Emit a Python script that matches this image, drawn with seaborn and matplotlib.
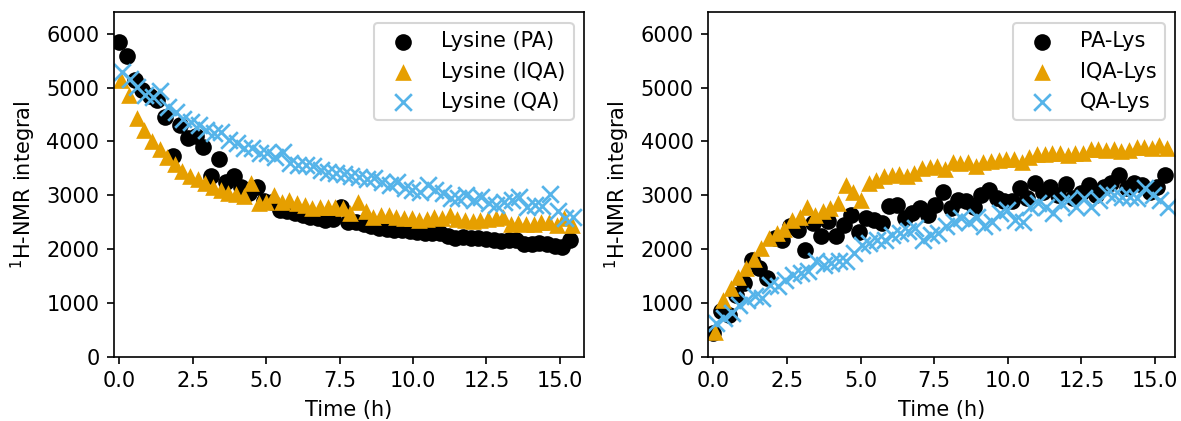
import matplotlib
matplotlib.use("Agg")
import matplotlib.pyplot as plt
import seaborn as sns

# sampling times (h) for each reaction series
time_pa = [0.00, 0.26, 0.52, 0.78, 1.04, 1.30, 1.56, 1.82, 2.08, 2.34,
           2.60, 2.86, 3.12, 3.38, 3.64, 3.90, 4.16, 4.42, 4.68, 4.94,
           5.20, 5.46, 5.72, 5.98, 6.24, 6.50, 6.76, 7.02, 7.28, 7.54,
           7.80, 8.06, 8.32, 8.58, 8.84, 9.10, 9.36, 9.62, 9.88, 10.14,
           10.40, 10.66, 10.92, 11.18, 11.44, 11.70, 11.96, 12.22, 12.48, 12.74,
           13.00, 13.26, 13.52, 13.78, 14.04, 14.30, 14.56, 14.82, 15.08, 15.34]
time_iqa = [0.07, 0.33, 0.59, 0.85, 1.11, 1.37, 1.63, 1.89, 2.15, 2.41,
            2.67, 2.93, 3.19, 3.45, 3.71, 3.97, 4.23, 4.49, 4.75, 5.01,
            5.27, 5.53, 5.79, 6.05, 6.31, 6.57, 6.83, 7.09, 7.35, 7.61,
            7.87, 8.13, 8.39, 8.65, 8.91, 9.17, 9.43, 9.69, 9.95, 10.21,
            10.47, 10.73, 10.99, 11.25, 11.51, 11.77, 12.03, 12.29, 12.55, 12.81,
            13.07, 13.33, 13.59, 13.85, 14.11, 14.37, 14.63, 14.89, 15.15, 15.41]
time_qa = [0.10, 0.36, 0.62, 0.88, 1.14, 1.40, 1.66, 1.92, 2.18, 2.44,
           2.70, 2.96, 3.22, 3.48, 3.74, 4.00, 4.26, 4.52, 4.78, 5.04,
           5.30, 5.56, 5.82, 6.08, 6.34, 6.60, 6.86, 7.12, 7.38, 7.64,
           7.90, 8.16, 8.42, 8.68, 8.94, 9.20, 9.46, 9.72, 9.98, 10.24,
           10.50, 10.76, 11.02, 11.28, 11.54, 11.80, 12.06, 12.32, 12.58, 12.84,
           13.10, 13.36, 13.62, 13.88, 14.14, 14.40, 14.66, 14.92, 15.18, 15.44]

# left panel: lysine consumption
lys_pa = [5840, 5590, 5145, 4950, 4850, 4775, 4450, 3730, 4310, 4060,
          4100, 3890, 3350, 3670, 3255, 3350, 3160, 3050, 3160, 2900,
          2880, 2730, 2700, 2680, 2640, 2600, 2580, 2550, 2560, 2790,
          2510, 2500, 2470, 2420, 2400, 2380, 2360, 2350, 2330, 2320,
          2300, 2290, 2300, 2240, 2200, 2230, 2200, 2200, 2190, 2160,
          2150, 2170, 2170, 2100, 2090, 2110, 2100, 2050, 2030, 2170]
lys_iqa = [5150, 4870, 4440, 4215, 4000, 3855, 3720, 3585, 3460, 3360,
           3300, 3225, 3160, 3100, 3050, 3025, 2990, 3225, 2865, 2880,
           3000, 2880, 2915, 2865, 2820, 2760, 2790, 2790, 2790, 2760,
           2670, 2880, 2700, 2605, 2635, 2635, 2605, 2575, 2575, 2545,
           2555, 2590, 2575, 2635, 2555, 2545, 2530, 2545, 2555, 2575,
           2590, 2470, 2480, 2470, 2470, 2510, 2510, 2450, 2575, 2450]
lys_qa = [5300, 5160, 5020, 4870, 4820, 4930, 4650, 4555, 4415, 4370,
          4310, 4215, 4155, 4185, 4030, 3970, 3875, 3875, 3795, 3780,
          3720, 3810, 3595, 3565, 3565, 3535, 3470, 3440, 3410, 3400,
          3360, 3335, 3300, 3320, 3240, 3195, 3255, 3130, 3100, 3070,
          3195, 3100, 3040, 2950, 2950, 3010, 2915, 2975, 2865, 2820,
          2880, 2915, 2975, 2790, 2820, 2800, 3025, 2715, 2575, 2605]

# right panel: product formation
pa_lys = [440, 842, 780, 1150, 1370, 1800, 1650, 1460, 2205, 2175,
          2420, 2360, 1990, 2485, 2250, 2515, 2250, 2455, 2640, 2310,
          2580, 2545, 2485, 2795, 2825, 2580, 2670, 2765, 2640, 2825,
          3055, 2760, 2915, 2885, 2790, 3005, 3100, 2945, 2885, 2885,
          3130, 2945, 3225, 3070, 3160, 3005, 3210, 2945, 3040, 3195,
          3005, 3160, 3225, 3380, 3130, 3225, 3195, 3070, 3160, 3380]
iqa_lys = [450, 1055, 1270, 1490, 1645, 1810, 2015, 2200, 2295, 2370,
           2545, 2605, 2790, 2635, 2700, 2760, 2855, 3195, 3070, 2915,
           3235, 3285, 3350, 3380, 3400, 3350, 3410, 3505, 3520, 3535,
           3485, 3625, 3605, 3625, 3535, 3625, 3645, 3660, 3670, 3670,
           3625, 3720, 3770, 3770, 3795, 3780, 3750, 3780, 3795, 3855,
           3855, 3845, 3855, 3815, 3845, 3905, 3895, 3875, 3935, 3875]
qa_lys = [626, 719, 812, 967, 1059, 1121, 1090, 1338, 1307, 1431,
          1524, 1555, 1586, 1771, 1710, 1741, 1771, 1771, 1927, 2082,
          2113, 2175, 2175, 2268, 2299, 2330, 2392, 2175, 2268, 2299,
          2422, 2510, 2575, 2510, 2605, 2420, 2510, 2665, 2730, 2545,
          2510, 2790, 2850, 2790, 2665, 2850, 2915, 2790, 2945, 2790,
          2915, 3040, 3010, 2975, 2975, 2945, 3130, 3010, 2915, 2790]

left_labels = ["Lysine (PA)", "Lysine (IQA)", "Lysine (QA)"]
right_labels = ["PA-Lys", "IQA-Lys", "QA-Lys"]

BLACK = "black"
ORANGE = "#E69F00"
BLUE = "#56B4E9"

fig = plt.figure(figsize=(1181 / 150, 421 / 150), dpi=150)
ax1 = fig.add_axes([0.0965, 0.1527, 0.398, 0.818])
ax2 = fig.add_axes([0.5998, 0.1527, 0.3952, 0.818])


def draw(ax, series, labels):
    styles = [("o", BLACK, 0), ("^", ORANGE, 0), ("x", BLUE, 1.3)]
    times = [time_pa, time_iqa, time_qa]
    for (mk, col, lw), t, y, lab in zip(styles, times, series, labels):
        sns.scatterplot(x=t, y=y, ax=ax, marker=mk, color=col, s=64,
                        linewidth=lw, label=lab)
    ax.set_ylim(0, 6400)
    ax.set_yticks([0, 1000, 2000, 3000, 4000, 5000, 6000])
    ax.set_xticks([0, 2.5, 5, 7.5, 10, 12.5, 15])
    ax.set_xlabel("Time (h)")
    ax.set_ylabel("$^1$H-NMR integral")
    ax.legend(loc="upper right")


draw(ax1, [lys_pa, lys_iqa, lys_qa], left_labels)
ax1.set_xlim(-0.18, 15.82)
draw(ax2, [pa_lys, iqa_lys, qa_lys], right_labels)
ax2.set_xlim(-0.17, 15.68)

fig.savefig("out.png", dpi=150)
